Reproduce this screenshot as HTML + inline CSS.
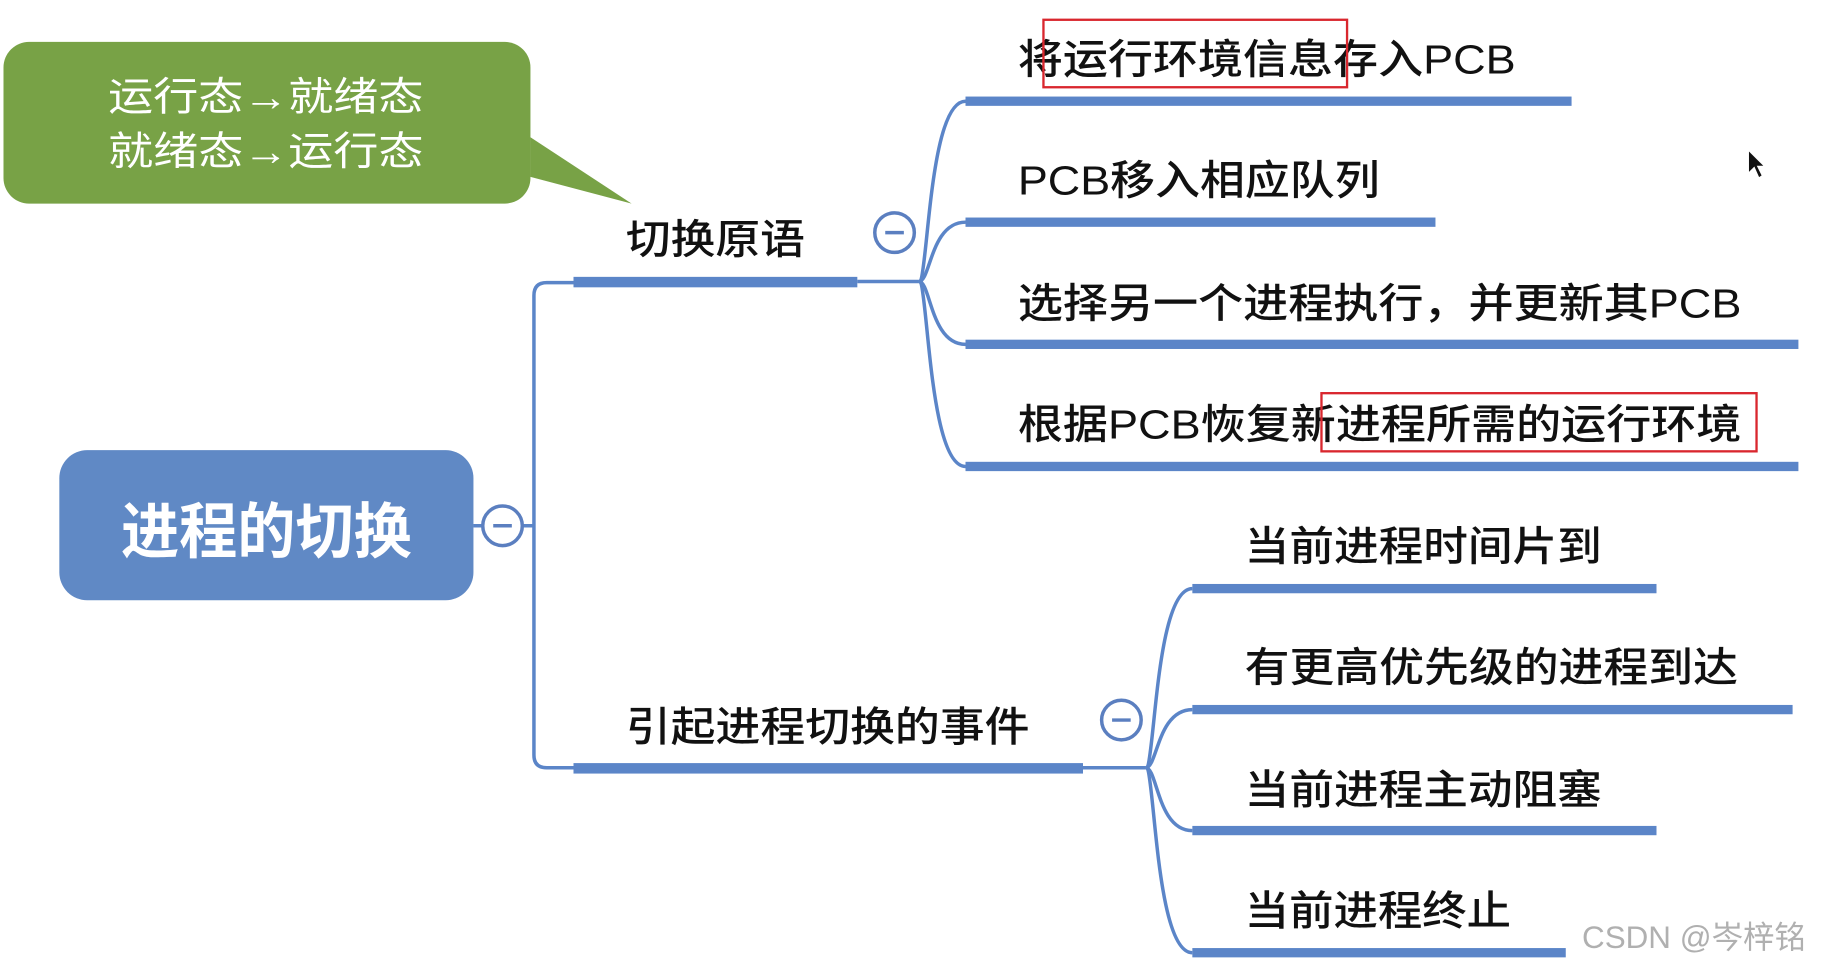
<!DOCTYPE html>
<html><head><meta charset="utf-8"><style>
html,body{margin:0;padding:0;background:#fff;}
svg{display:block;}
text{font-family:"Liberation Sans","Noto Sans CJK SC",sans-serif;}
</style></head><body>
<svg width="1824" height="969" viewBox="0 0 1568 833" preserveAspectRatio="none" xmlns="http://www.w3.org/2000/svg">
<rect width="1568" height="833" fill="#fff"/>
<!-- callout -->
<path d="M456,118 L543,175 L456,152 Z" fill="#78a246"/>
<rect x="3" y="36" width="453" height="139" rx="22" fill="#78a246"/>
<g fill="#fff" font-size="34" font-family="Noto Sans CJK SC, sans-serif">
<text x="93" y="95" textLength="271" lengthAdjust="spacingAndGlyphs">运行态→就绪态</text>
<text x="93" y="142" textLength="271" lengthAdjust="spacingAndGlyphs">就绪态→运行态</text>
</g>
<!-- root -->
<rect x="51" y="387" width="356" height="129" rx="24" fill="#6089c5"/>
<text x="104" y="475" fill="#fff" font-size="52" font-weight="bold" textLength="250" lengthAdjust="spacingAndGlyphs" font-family="Noto Sans CJK SC, sans-serif">进程的切换</text>
<!-- connectors -->
<g fill="none" stroke="#5b85c8" stroke-width="3">
<line x1="407" y1="452" x2="459" y2="452"/>
<path d="M493,243 L470,243 Q459,243 459,254 L459,649 Q459,660 470,660 L493,660"/>
<line x1="737" y1="242" x2="790" y2="242"/>
<path d="M790,242 C798,242 798,87 830,87"/>
<path d="M790,242 C800,242 800,191 830,191"/>
<path d="M790,242 C800,242 800,296 830,296"/>
<path d="M790,242 C798,242 798,401 830,401"/>
<line x1="931" y1="660" x2="985" y2="660"/>
<path d="M985,660 C993,660 993,506 1025,506"/>
<path d="M985,660 C995,660 995,610 1025,610"/>
<path d="M985,660 C995,660 995,714 1025,714"/>
<path d="M985,660 C993,660 993,819 1025,819"/>
</g>
<g fill="#5b85c8">
<rect x="493" y="238" width="244" height="9"/>
<rect x="493" y="656" width="438" height="9"/>
<rect x="830" y="83" width="521" height="8"/>
<rect x="830" y="187" width="404" height="8"/>
<rect x="830" y="292" width="716" height="8"/>
<rect x="830" y="397" width="716" height="8"/>
<rect x="1025" y="502" width="399" height="8"/>
<rect x="1025" y="606" width="516" height="8"/>
<rect x="1025" y="710" width="399" height="8"/>
<rect x="1025" y="815" width="321" height="8"/>
</g>
<!-- collapse circles -->
<g fill="#fff" stroke="#5b7fc0" stroke-width="3">
<circle cx="432" cy="452" r="17"/>
<circle cx="769" cy="200" r="17"/>
<circle cx="964" cy="619" r="17"/>
</g>
<g stroke="#5b7fc0" stroke-width="3">
<line x1="424" y1="452" x2="440" y2="452"/>
<line x1="761" y1="200" x2="777" y2="200"/>
<line x1="956" y1="619" x2="972" y2="619"/>
</g>
<!-- labels -->
<g fill="#111" font-size="35" font-family="Noto Sans CJK SC, sans-serif" font-weight="500">
<text x="538" y="218" textLength="154" lengthAdjust="spacingAndGlyphs">切换原语</text>
<text x="538" y="637" textLength="347" lengthAdjust="spacingAndGlyphs">引起进程切换的事件</text>
<text x="875" y="63" textLength="428" lengthAdjust="spacingAndGlyphs">将运行环境信息存入PCB</text>
<text x="875" y="167" textLength="311" lengthAdjust="spacingAndGlyphs">PCB移入相应队列</text>
<text x="875" y="273" textLength="622" lengthAdjust="spacingAndGlyphs">选择另一个进程执行，并更新其PCB</text>
<text x="875" y="377" textLength="622" lengthAdjust="spacingAndGlyphs">根据PCB恢复新进程所需的运行环境</text>
<text x="1070" y="482" textLength="307" lengthAdjust="spacingAndGlyphs">当前进程时间片到</text>
<text x="1070" y="586" textLength="424" lengthAdjust="spacingAndGlyphs">有更高优先级的进程到达</text>
<text x="1070" y="691" textLength="307" lengthAdjust="spacingAndGlyphs">当前进程主动阻塞</text>
<text x="1070" y="795" textLength="229" lengthAdjust="spacingAndGlyphs">当前进程终止</text>
</g>
<!-- red boxes -->
<g fill="none" stroke="#d9272e" stroke-width="2">
<rect x="897" y="17" width="261" height="58"/>
<rect x="1136" y="338" width="374" height="50"/>
</g>
<!-- cursor -->
<path d="M1503,129 L1503,149 L1508,144 L1512,153 L1515,151 L1511,143 L1517,143 Z" fill="#111" stroke="#fff" stroke-width="1"/>
<!-- watermark -->
<text x="1360" y="815" fill="#b0b0b0" font-size="27" font-family="Liberation Sans, Noto Sans CJK SC, sans-serif">CSDN @岑梓铭</text>
</svg>
</body></html>
